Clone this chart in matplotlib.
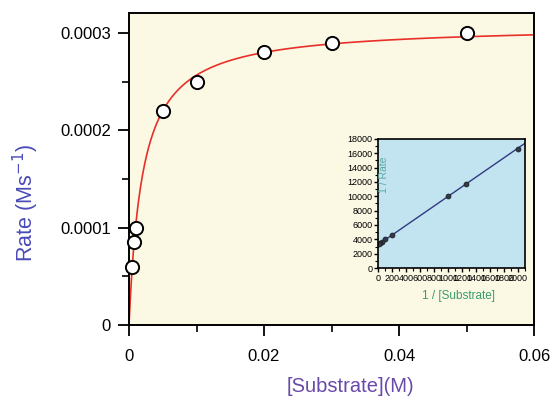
import matplotlib
matplotlib.use("Agg")
import matplotlib.pyplot as plt
import numpy as np
from matplotlib.ticker import MultipleLocator

plt.rcParams['font.family'] = ['Liberation Sans', 'DejaVu Sans']

# measured points
substrate = [0.0005, 0.0008, 0.001, 0.005, 0.01, 0.02, 0.03, 0.05]
rate = [0.00006, 0.000085, 0.0001, 0.00022, 0.00025, 0.00028, 0.00029, 0.0003]

# Michaelis-Menten fit parameters
vmax = 0.000308
km = 0.002

# Lineweaver-Burk values
inv_s = [1 / s for s in substrate]
inv_v = [1 / v for v in rate]


fig = plt.figure(figsize=(5.52, 4.0), dpi=100)
ax = fig.add_axes([0.2337, 0.1875, 0.7337, 0.78])
ax.set_facecolor("#fbf8e4")

s_fit = np.linspace(0, 0.06, 600)
ax.plot(s_fit, vmax * s_fit / (km + s_fit), color="#e8302a", lw=1.2, zorder=2)
ax.plot(substrate, rate, "o", ms=9.5, mfc="white", mec="black", mew=1.4, zorder=3, clip_on=False)

ax.set_xlim(0, 0.06)
ax.set_ylim(0, 0.0003205)
ax.set_xticks([0, 0.02, 0.04, 0.06])
ax.set_xticklabels(["0", "0.02", "0.04", "0.06"])
ax.set_yticks([0, 0.0001, 0.0002, 0.0003])
ax.set_yticklabels(["0", "0.0001", "0.0002", "0.0003"])
ax.xaxis.set_minor_locator(MultipleLocator(0.01))
ax.yaxis.set_minor_locator(MultipleLocator(0.00005))
ax.tick_params(which="major", direction="out", length=8, width=1.3, labelsize=12, pad=5)
ax.tick_params(which="minor", direction="out", length=5, width=1.2)
ax.tick_params(axis="x", pad=9)
for sp in ax.spines.values():
    sp.set_linewidth(1.4)

ax.set_xlabel("[Substrate](M)", color="#6a4aa8", fontsize=14.5)
ax.xaxis.set_label_coords(0.546, -0.168)
ax.set_ylabel("Rate (Ms$^{-1}$)", color="#4a4ab8", fontsize=15.5)
ax.yaxis.set_label_coords(-0.218, 0.39)

# inset: double reciprocal plot
ins = fig.add_axes([0.6848, 0.33, 0.2663, 0.3225])
ins.set_facecolor("#c2e4f0")
coef = np.polyfit(inv_s, inv_v, 1)
xl = np.array([0, 2100])
ins.plot(xl, coef[0] * xl + coef[1], color="#303a80", lw=1.0)
ins.plot(inv_s, inv_v, "o", ms=3.5, mfc="#303a50", mec="#202020", mew=0.6)
ins.set_xlim(0, 2100)
ins.set_ylim(0, 18000)
ins.set_xticks(np.arange(0, 2001, 200))
ins.set_yticks(np.arange(0, 18001, 2000))
ins.xaxis.set_minor_locator(MultipleLocator(100))
ins.yaxis.set_minor_locator(MultipleLocator(1000))
ins.tick_params(which="major", direction="out", length=3, width=1, labelsize=6.5, pad=1)
ins.tick_params(which="minor", direction="out", length=2, width=0.8)
for sp in ins.spines.values():
    sp.set_linewidth(1.2)
ins.text(0.04, 0.72, "1 / Rate", transform=ins.transAxes, rotation=90,
         color="#5aa8a0", fontsize=7.5, ha="center", va="center")
ins.text(0.55, -0.22, "1 / [Substrate]", transform=ins.transAxes,
         color="#3a9a70", fontsize=8.5, ha="center", va="center")

fig.savefig("out.png", dpi=100)
